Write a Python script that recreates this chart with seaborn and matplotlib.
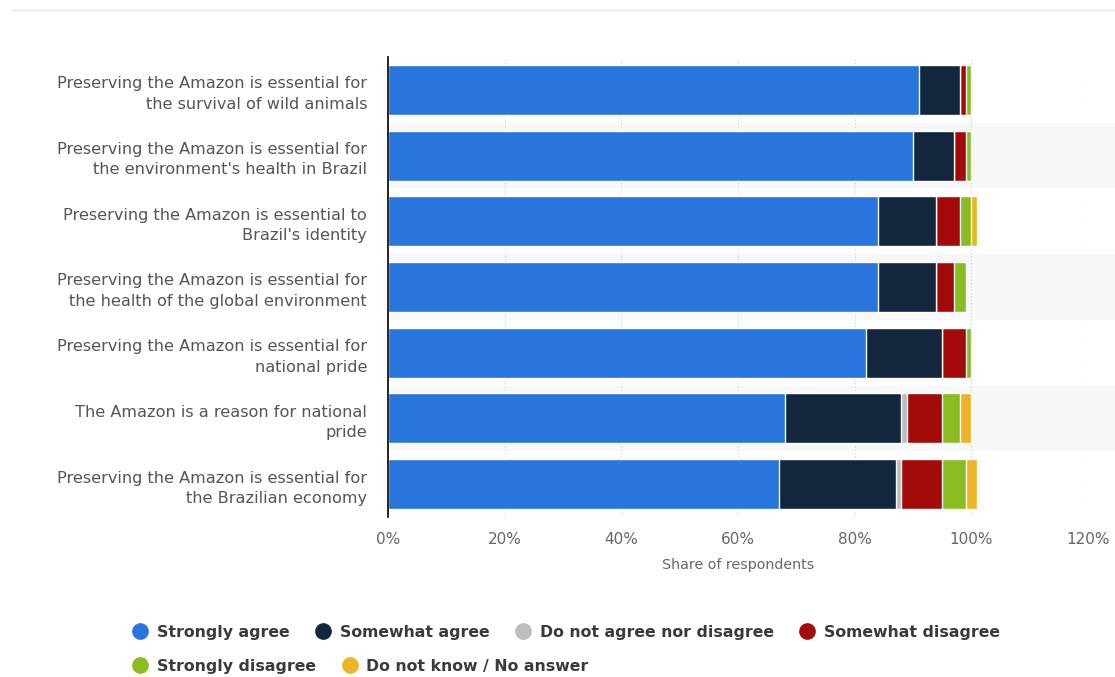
import textwrap
import numpy as np
import pandas as pd
import matplotlib
matplotlib.use("Agg")
import matplotlib.pyplot as plt
import seaborn as sns
from matplotlib.lines import Line2D

categories = [
    "Preserving the Amazon is essential for the survival of wild animals",
    "Preserving the Amazon is essential for the environment's health in Brazil",
    "Preserving the Amazon is essential to Brazil's identity",
    "Preserving the Amazon is essential for the health of the global environment",
    "Preserving the Amazon is essential for national pride",
    "The Amazon is a reason for national pride",
    "Preserving the Amazon is essential for the Brazilian economy",
]
series_names = ["Strongly agree", "Somewhat agree", "Do not agree nor disagree",
                "Somewhat disagree", "Strongly disagree", "Do not know / No answer"]
strongly_agree = [91, 90, 84, 84, 82, 68, 67]
somewhat_agree = [7, 7, 10, 10, 13, 20, 20]
neutral = [0, 0, 0, 0, 0, 1, 1]
somewhat_disagree = [1, 2, 4, 3, 4, 6, 7]
strongly_disagree = [1, 1, 2, 2, 1, 3, 4]
dont_know = [0, 0, 1, 0, 0, 2, 2]
x_ticks = [0, 20, 40, 60, 80, 100, 120]
x_tick_labels = ["0%", "20%", "40%", "60%", "80%", "100%", "120%"]

colors = ["#2876dd", "#12263d", "#bdbdbd", "#a30b0b", "#8bbc21", "#edb526"]
series = [strongly_agree, somewhat_agree, neutral, somewhat_disagree,
          strongly_disagree, dont_know]

sns.set_theme(style="white")
plt.rcParams["font.family"] = ["DejaVu Sans"]

fig = plt.figure(figsize=(11.15, 6.77), dpi=100)
# faint card edge at the top
fig.add_artist(Line2D([12 / 1115, 1], [1 - 10 / 677, 1 - 10 / 677],
                      transform=fig.transFigure, color="#eeeeee", lw=2))
ax = fig.add_axes([388 / 1115, 1 - 517 / 677, 700 / 1115, 460 / 677])

labels = [textwrap.fill(c, 38) for c in categories]
cum = np.cumsum(np.array(series, dtype=float), axis=0)

# alternating background bands
for i in range(len(categories)):
    if i % 2 == 1:
        ax.axhspan(i - 0.5, i + 0.5, xmin=0, xmax=1.04, color="#f8f8f8",
                   zorder=0, clip_on=False, lw=0)

for v in x_ticks[1:]:
    ax.axvline(v, color="#cfcfcf", lw=0.8, ls=(0, (1, 2)), zorder=0.5)

for k in range(len(series) - 1, -1, -1):
    df = pd.DataFrame({"cat": labels, "val": cum[k]})
    sns.barplot(data=df, x="val", y="cat", orient="h", color=colors[k],
                saturation=1, width=0.76, edgecolor="white", linewidth=1,
                ax=ax, zorder=2)

ax.set_xlim(0, 120)
ax.set_ylim(6.5, -0.5)
ax.set_xticks(x_ticks)
ax.set_xticklabels(x_tick_labels, color="#666666", fontsize=11)
ax.tick_params(axis="x", length=0, pad=11)
ax.tick_params(axis="y", length=0, pad=15)
for t in ax.get_yticklabels():
    t.set_color("#555555")
    t.set_fontsize(11.6)
    t.set_linespacing(1.45)
ax.set_ylabel("")
ax.set_xlabel("Share of respondents", color="#666666", fontsize=10.3, labelpad=8)
for s in ["top", "right", "bottom"]:
    ax.spines[s].set_visible(False)
ax.spines["left"].set_color("black")
ax.spines["left"].set_linewidth(1.2)
ax.grid(False)

def handle(c):
    return Line2D([], [], marker="o", ls="", markersize=11,
                  markerfacecolor=c, markeredgecolor=c)

common = dict(frameon=False, fontsize=11.3, handletextpad=0.45,
              columnspacing=1.55, handlelength=1.2, borderaxespad=0, borderpad=0)
row1 = fig.legend([handle(c) for c in colors[:4]], series_names[:4],
                  loc="center left", bbox_to_anchor=(131 / 1115, 1 - 632 / 677),
                  ncol=4, **common)
row2 = fig.legend([handle(c) for c in colors[4:]], series_names[4:],
                  loc="center left", bbox_to_anchor=(131 / 1115, 1 - 666 / 677),
                  ncol=2, **common)
for lg in (row1, row2):
    for t in lg.get_texts():
        t.set_color("#3a3a3a")
        t.set_fontweight("bold")

fig.savefig("out.png", dpi=100, facecolor="white")
